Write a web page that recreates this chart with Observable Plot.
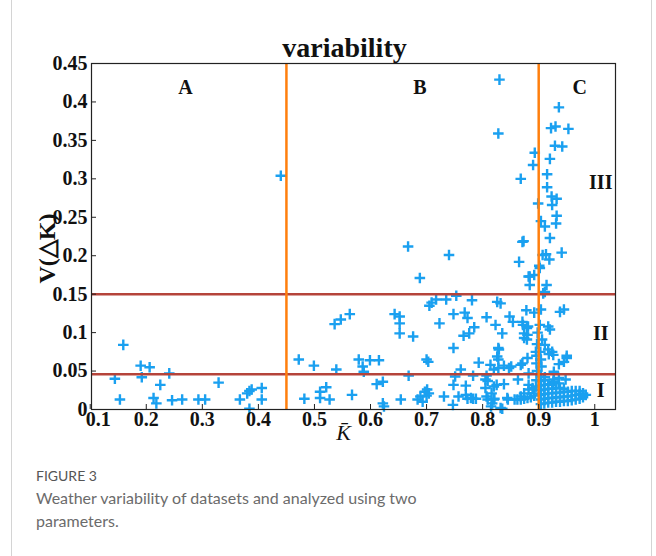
<!DOCTYPE html>
<html><head><meta charset="utf-8">
<script src="https://cdn.jsdelivr.net/npm/d3@7"></script>
<script src="https://cdn.jsdelivr.net/npm/@observablehq/plot@0.6"></script>
<style>
body{margin:0;background:#fff;}
#wrap{position:relative;width:656px;height:556px;overflow:hidden;background:#fff;}
#card{position:absolute;left:11px;width:639px;top:0;height:556px;border-left:1px solid #d4d4d4;border-right:1px solid #d4d4d4;}
#chart{position:absolute;left:0;top:0;}
#fig{position:absolute;left:36px;top:467px;font-family:Lato,sans-serif;font-size:14px;color:#555;}
#cap{position:absolute;left:36px;top:486px;font-family:Lato,sans-serif;font-size:16px;line-height:23px;color:#6b6b6b;white-space:nowrap;}
</style></head><body>
<div id="wrap"><div id="card"></div><div id="chart"></div>
<div id="fig">FIGURE 3</div>
<div id="cap">Weather variability of datasets and analyzed using two<br>parameters.</div></div>
<script>
// tick values and labels
const xTicks = [0.1,0.2,0.3,0.4,0.5,0.6,0.7,0.8,0.9,1];
const xTickLabels = ["0.1","0.2","0.3","0.4","0.5","0.6","0.7","0.8","0.9","1"];
const yTicks = [0,0.05,0.1,0.15,0.2,0.25,0.3,0.35,0.4,0.45];
const yTickLabels = ["0","0.05","0.1","0.15","0.2","0.25","0.3","0.35","0.4","0.45"];

// thresholds
const kThresholds = [0.45, 0.9];
const vThresholds = [0.046, 0.15];

// [K-bar, V(ΔK)]
const zoneA = [
[0.144,0.040],[0.153,0.013],[0.159,0.084],[0.190,0.057],[0.192,0.042],[0.206,0.055],[0.213,0.015],[0.218,0.008],[0.225,0.032],[0.241,0.047],[0.246,0.012],[0.264,0.013],[0.293,0.013],[0.305,0.013],[0.329,0.035],[0.367,0.013],[0.380,0.021],[0.384,0.024],[0.388,0.026],[0.384,0.001],[0.406,0.028],[0.406,0.013],[0.440,0.304]
];
const zoneB = [
[0.472,0.065],[0.482,0.014],[0.499,0.057],[0.510,0.023],[0.510,0.015],[0.521,0.029],[0.527,0.013],
[0.536,0.111],[0.547,0.117],[0.563,0.124],[0.539,0.052],[0.579,0.065],[0.586,0.056],[0.588,0.049],[0.599,0.064],[0.615,0.064],[0.567,0.019],[0.611,0.033],[0.622,0.036],[0.622,0.008],[0.624,0.004],
[0.643,0.124],[0.652,0.121],[0.652,0.112],[0.652,0.099],[0.654,0.013],[0.667,0.212],[0.668,0.044],[0.676,0.095],[0.688,0.171],[0.684,0.013],[0.689,0.017],[0.697,0.023],[0.700,0.018],[0.693,0.010],[0.700,0.065],[0.703,0.062],[0.705,0.135],[0.709,0.139],[0.717,0.143],[0.723,0.112],[0.731,0.017],[0.740,0.201],[0.735,0.143],[0.747,0.006],[0.748,0.080],[0.748,0.124],[0.748,0.032],[0.751,0.043],[0.753,0.148],[0.757,0.017],[0.761,0.052],[0.768,0.126],[0.770,0.031],[0.770,0.019],[0.773,0.119],[0.773,0.014],[0.766,0.096],[0.776,0.099],[0.785,0.107],[0.781,0.142],[0.783,0.044],[0.783,0.014],[0.793,0.061],[0.788,0.014],[0.701,0.026],[0.704,0.021],[0.779,0.015],
[0.809,0.037],[0.807,0.044],[0.807,0.120],[0.805,0.028],[0.807,0.017],[0.809,0.013],[0.814,0.058],[0.820,0.052],[0.816,0.021],[0.817,0.008],[0.823,0.110],[0.826,0.140],[0.832,0.138],[0.826,0.069],[0.828,0.080],[0.825,0.032],[0.820,0.013],[0.835,0.099],[0.838,0.057],[0.838,0.033],[0.835,0.001],[0.848,0.121],[0.851,0.056],[0.854,0.114],[0.845,0.013],[0.857,0.013],[0.865,0.192],[0.871,0.218],[0.871,0.114],[0.871,0.060],[0.874,0.093],[0.874,0.099],[0.878,0.129],[0.881,0.108],[0.884,0.173],[0.884,0.162],[0.880,0.067],[0.882,0.047],[0.882,0.032],[0.892,0.126],[0.895,0.075],[0.892,0.175],
[0.830,0.429],[0.828,0.359],[0.893,0.334],[0.890,0.318],[0.868,0.300],[0.899,0.268],[0.873,0.219],[0.882,0.173],
[0.805,0.039],[0.820,0.030],[0.863,0.039],[0.821,0.014],[0.844,0.015],[0.832,0.002],[0.815,0.004],[0.872,0.110],[0.879,0.106],[0.880,0.097],[0.879,0.091],[0.829,0.078],[0.828,0.065],[0.828,0.054],[0.847,0.054],[0.868,0.058],
[0.868,0.017],[0.874,0.021],[0.882,0.026],[0.889,0.028],[0.892,0.021],[0.862,0.013],[0.868,0.013],[0.874,0.014],[0.880,0.015],[0.886,0.016],[0.892,0.018],[0.895,0.030],[0.896,0.038],[0.897,0.050],[0.896,0.060],[0.898,0.100],[0.897,0.085],[0.896,0.070]
];
const zoneC = [
[0.936,0.393],[0.922,0.366],[0.930,0.368],[0.953,0.365],[0.929,0.343],[0.942,0.342],[0.920,0.326],[0.915,0.306],
[0.915,0.289],[0.923,0.277],[0.932,0.274],[0.924,0.266],[0.932,0.252],[0.931,0.242],[0.904,0.245],[0.911,0.238],[0.920,0.223],[0.941,0.204],[0.907,0.201],[0.913,0.202],[0.919,0.195],[0.901,0.187],[0.902,0.184],[0.914,0.162],[0.911,0.153],[0.908,0.151],
[0.938,0.127],[0.945,0.130],[0.917,0.108],[0.920,0.104],[0.906,0.091],[0.911,0.084],[0.917,0.078],[0.924,0.075],[0.926,0.071],[0.918,0.072],[0.950,0.067],[0.945,0.062],[0.936,0.059],[0.905,0.056],[0.911,0.042],[0.927,0.039],[0.948,0.039],[0.936,0.034],[0.926,0.036],[0.950,0.070],[0.927,0.049],[0.936,0.041],[0.904,0.065],[0.903,0.075],[0.902,0.110],[0.904,0.130]
];
const clusterI = [
[0.904,0.007],[0.904,0.013],[0.904,0.019],[0.904,0.025],[0.904,0.031],[0.904,0.037],[0.904,0.043],
[0.910,0.008],[0.910,0.014],[0.910,0.020],[0.910,0.026],[0.910,0.032],[0.910,0.038],
[0.917,0.009],[0.917,0.015],[0.917,0.021],[0.917,0.027],[0.917,0.033],
[0.924,0.009],[0.924,0.015],[0.924,0.021],[0.924,0.027],[0.924,0.032],
[0.931,0.010],[0.931,0.016],[0.931,0.022],[0.931,0.028],
[0.938,0.010],[0.938,0.016],[0.938,0.022],[0.938,0.028],
[0.945,0.011],[0.945,0.017],[0.945,0.023],[0.945,0.027],
[0.952,0.011],[0.952,0.017],[0.952,0.023],
[0.959,0.012],[0.959,0.018],[0.959,0.024],
[0.966,0.013],[0.966,0.019],[0.966,0.024],
[0.973,0.014],[0.973,0.020],[0.973,0.024],
[0.979,0.016],[0.979,0.021],
[0.984,0.019]
];
const zoneNames = ["A","B","C"];
const levelNames = ["III","II","I"];
const zoneNameK = [0.270, 0.688, 0.973];
const levelNameV = [0.295, 0.099, 0.025];

const points = [...zoneA, ...zoneB, ...zoneC, ...clusterI].map(([k, v]) => ({k, v}));
const zoneLabels = zoneNames.map((t, i) => ({t, k: zoneNameK[i], v: 0.419}));
const levelLabels = levelNames.map((t, i) => ({t, k: 1.0107, v: levelNameV[i]}));

const W = 656, H = 452, mL = 91, mR = 41, mT = 63, mB = 43;
const plotW = W - mL - mR, plotH = H - mT - mB;
const serif = "'Liberation Serif','Times New Roman',serif";
const fmtX = d => xTickLabels[xTicks.indexOf(d)];
const fmtY = d => yTickLabels[yTicks.indexOf(d)];

const chart = Plot.plot({
  width: W, height: H,
  marginLeft: mL, marginRight: mR, marginTop: mT, marginBottom: mB,
  style: {fontFamily: serif, fontWeight: "bold", fontSize: "20px", color: "#111", background: "transparent", overflow: "visible"},
  x: {domain: [0.1023, 1.037]},
  y: {domain: [0, 0.45]},
  marks: [
    Plot.dot(points, {x: "k", y: "v", symbol: "plus", r: 3.5, stroke: "#1aa0f0", strokeWidth: 2.4}),
    Plot.ruleY(vThresholds, {stroke: "#b5443b", strokeWidth: 2.5}),
    Plot.ruleX(kThresholds, {stroke: "#ff7f0e", strokeWidth: 2.5}),
    Plot.frame({stroke: "#222", strokeWidth: 1.2}),
    Plot.tickY(yTicks, {y: d => d, insetRight: plotW - 5, stroke: "#222"}),
    Plot.tickX(xTicks, {x: d => d, insetTop: plotH - 5, stroke: "#222"}),
    Plot.axisX(xTicks.slice(1), {tickSize: 0, tickPadding: 2, label: null, fontSize: 20, fontWeight: "bold", tickFormat: fmtX}),
    Plot.axisX(xTicks.slice(0, 1), {tickSize: 0, tickPadding: 2, dx: 8, label: null, fontSize: 20, fontWeight: "bold", tickFormat: fmtX}),
    Plot.axisY(yTicks, {tickSize: 0, tickPadding: 4, label: null, fontSize: 20, fontWeight: "bold", tickFormat: fmtY}),
    Plot.text(zoneLabels, {x: "k", y: "v", text: "t", fontSize: 20, fontWeight: "bold", fill: "#111"}),
    Plot.text(levelLabels, {x: "k", y: "v", text: "t", fontSize: 20, fontWeight: "bold", fill: "#111"}),
    Plot.text(["variability"], {frameAnchor: "top", lineAnchor: "middle", textAnchor: "middle", dx: -9, dy: -15, text: d => d, fontSize: 28, fontWeight: "bold", fill: "#111"}),
    Plot.text(["V(\u25B3K)"], {frameAnchor: "left", lineAnchor: "middle", textAnchor: "middle", rotate: -90, dx: -44, dy: 12, text: d => d, fontSize: 24, fontWeight: "bold", fill: "#111"}),
    Plot.text(["K\u0304"], {frameAnchor: "bottom", lineAnchor: "middle", textAnchor: "middle", dx: -10, dy: 23, text: d => d, fontSize: 22, fontWeight: "normal", fontStyle: "italic", fill: "#111"})
  ]
});
document.getElementById("chart").appendChild(chart);
</script></body></html>
